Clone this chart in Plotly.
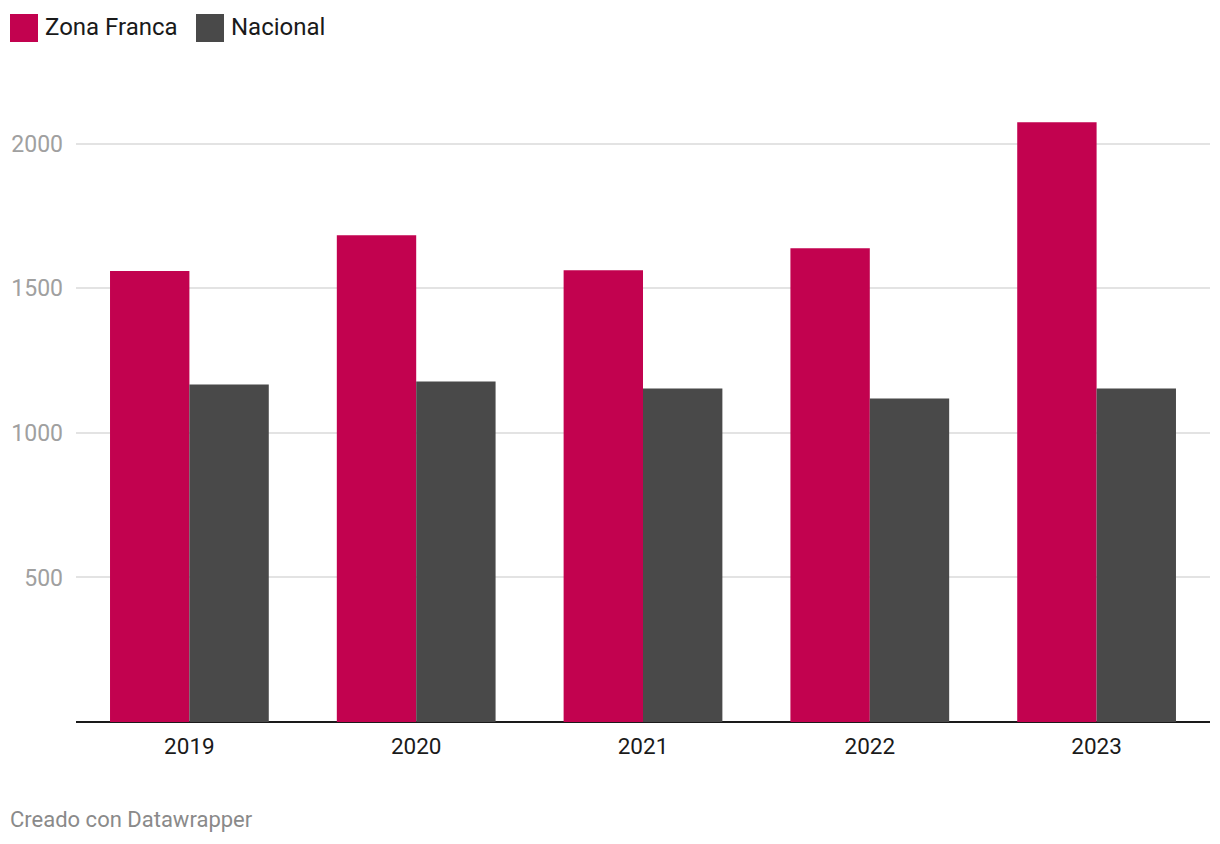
import plotly.graph_objects as go

years = ["2019", "2020", "2021", "2022", "2023"]
zona_franca = [1560, 1684, 1563, 1639, 2075]
nacional = [1168, 1178, 1154, 1119, 1154]
series_names = ["Zona Franca", "Nacional"]
colors = ["#c2024f", "#494949"]
y_ticks = [500, 1000, 1500, 2000]

fig = go.Figure()
for name, vals, col in zip(series_names, [zona_franca, nacional], colors):
    fig.add_trace(go.Bar(x=years, y=vals, name=name, marker=dict(color=col, line=dict(width=0)),
                         showlegend=False, hoverinfo="x+y+name"))

# custom legend (large squares like the reference)
shapes = []
annotations = []
leg_x = [-66, 120]
for i, (name, col) in enumerate(zip(series_names, colors)):
    shapes.append(dict(type="rect", xref="paper", yref="paper", xsizemode="pixel", ysizemode="pixel",
                       xanchor=0, yanchor=1, x0=leg_x[i], x1=leg_x[i] + 28, y0=101, y1=73,
                       fillcolor=col, line=dict(width=0)))
    annotations.append(dict(xref="paper", yref="paper", x=0, y=1, xshift=leg_x[i] + 33, yshift=88,
                            text=name, showarrow=False, xanchor="left", yanchor="middle",
                            font=dict(family="Roboto", size=24, color="#1a1a1a")))

annotations.append(dict(xref="paper", yref="paper", x=0, y=0, xshift=-68, yshift=-97,
                        text="Creado con Datawrapper", showarrow=False, xanchor="left", yanchor="middle",
                        font=dict(family="Roboto", size=22, color="#8a8a8a")))

fig.update_layout(
    width=1212, height=836,
    margin=dict(l=68, r=10, t=107, b=122, autoexpand=False),
    paper_bgcolor="white", plot_bgcolor="white",
    barmode="group", bargap=0.3, bargroupgap=0,
    font=dict(family="Roboto"),
    shapes=shapes, annotations=annotations,
    xaxis=dict(showgrid=False, showline=False, ticks="", tickfont=dict(size=22.5, color="#1a1a1a"),
               ticklabelstandoff=8, automargin=False),
    yaxis=dict(range=[0, 2100], tickvals=y_ticks, showgrid=True, gridcolor="#e3e3e3", gridwidth=2,
               zeroline=True, zerolinecolor="#1a1a1a", zerolinewidth=2, automargin=False,
               tickfont=dict(size=23, color="#a0a0a0"), ticklabelstandoff=12, showline=False),
)

fig.write_html("out.html")
